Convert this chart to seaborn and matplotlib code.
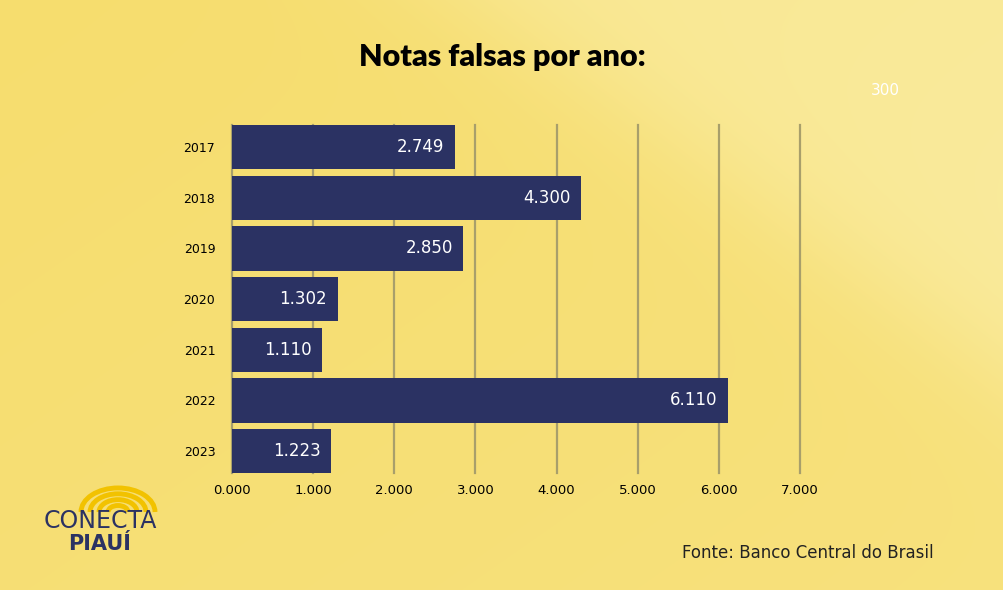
import matplotlib

matplotlib.use("Agg")
import matplotlib.pyplot as plt
import numpy as np
import pandas as pd
import seaborn as sns
from matplotlib.patches import Arc

YEARS: list[str] = ["2017", "2018", "2019", "2020", "2021", "2022", "2023"]
COUNTS: list[int] = [2749, 4300, 2850, 1302, 1110, 6110, 1223]
X_TICKS: list[int] = [0, 1000, 2000, 3000, 4000, 5000, 6000, 7000]

NAVY = "#2b3263"
GRID = "#a89f6b"


def fmt(v: int) -> str:
    return f"{v / 1000:.3f}"


def main() -> None:
    df = pd.DataFrame({"year": YEARS, "count": COUNTS})

    fig = plt.figure(figsize=(10.04, 5.90), dpi=100)

    # Background gradient
    bg = fig.add_axes([0, 0, 1, 1])
    h, w = 590, 1004
    yy, xx = np.mgrid[0:h, 0:w]
    diag = (xx * 0.7 + yy * 1.0) / (w * 0.7 + h)
    step = 1 / (1 + np.exp(-(xx * 0.7 - yy * 1.0 - 330) / 40))
    c0 = np.array([246, 221, 110]) / 255
    c1 = np.array([251, 238, 168]) / 255
    t = np.clip(0.25 * diag + 0.6 * step, 0, 1)[..., None]
    img = c0 * (1 - t) + c1 * t
    bg.imshow(img, aspect="auto", extent=[0, 1, 0, 1], origin="upper")
    bg.set_xlim(0, 1)
    bg.set_ylim(0, 1)
    bg.axis("off")

    ax = fig.add_axes([0.2311, 0.198, 0.5657, 0.590])
    ax.patch.set_alpha(0)
    sns.barplot(data=df, y="year", x="count", color=NAVY, saturation=1,
                width=0.87, ax=ax, zorder=3)
    ax.set_xlim(0, 7000)
    ax.set_xticks(X_TICKS)
    ax.set_xticklabels([fmt(v) for v in X_TICKS], fontsize=9.5)
    ax.tick_params(axis="y", labelsize=9, length=0, pad=12)
    ax.tick_params(axis="x", length=0, pad=8)
    ax.set_xlabel("")
    ax.set_ylabel("")
    for s in ax.spines.values():
        s.set_visible(False)
    for v in X_TICKS:
        ax.axvline(v, color=GRID, linewidth=1.6, zorder=0, clip_on=False)
    ax.set_ylim(6 + 0.435, -0.435)

    for p, v in zip(ax.patches, COUNTS):
        ax.text(p.get_width() - 130, p.get_y() + p.get_height() / 2, fmt(v),
                color="white", fontsize=12, ha="right", va="center", zorder=4)

    fig.text(0.5, 0.903, "Notas falsas por ano:", ha="center", va="center",
             fontsize=22, fontweight="black", family="Lato")
    fig.text(0.882, 0.847, "300", color="white", fontsize=11, ha="center", va="center")
    fig.text(0.93, 0.063, "Fonte: Banco Central do Brasil", ha="right", va="center",
             fontsize=12, color="#222222")

    # Logo
    la = fig.add_axes([0, 0, 1, 1], zorder=5)
    la.set_xlim(0, 1004)
    la.set_ylim(590, 0)
    la.axis("off")
    for r in (10, 19, 28, 37):
        la.add_patch(Arc((118, 512), 2 * r, 1.3 * r, theta1=180, theta2=360,
                         color="#f2c200", linewidth=3.5))
    la.text(100, 521, "CONECTA", fontsize=17, color=NAVY, ha="center", va="center")
    la.text(100, 544, "PIAUÍ", fontsize=15, color=NAVY, ha="center", va="center",
            fontweight="bold")

    fig.savefig("out.png", dpi=100)


if __name__ == "__main__":
    main()
